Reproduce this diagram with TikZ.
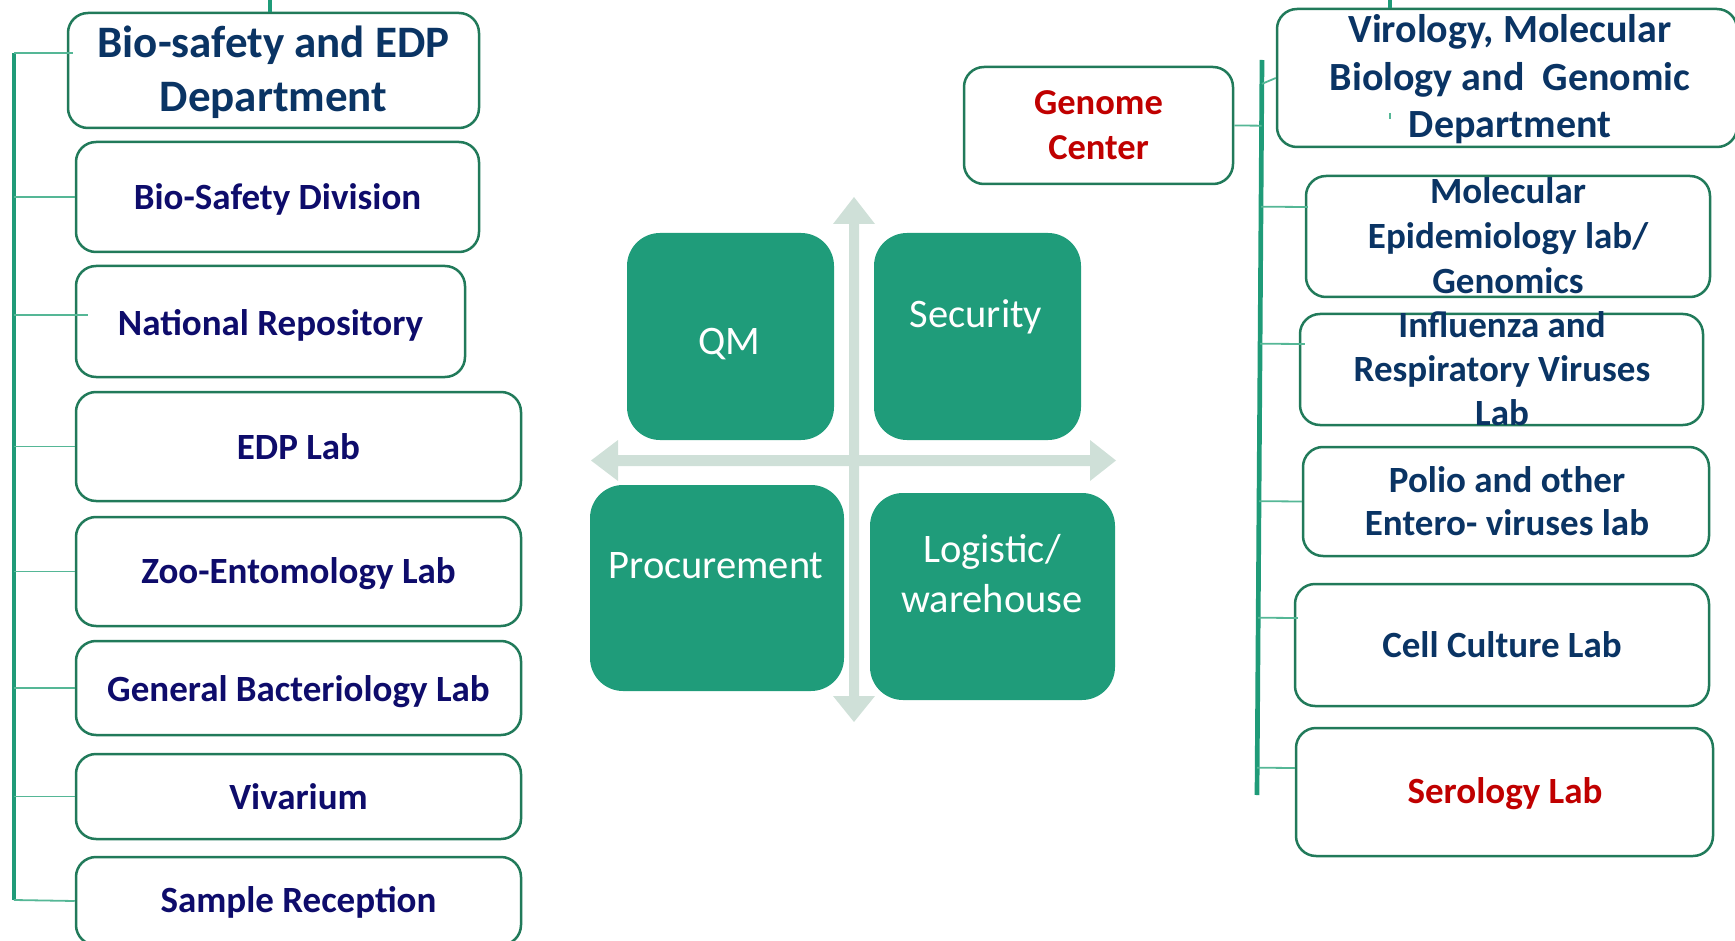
\documentclass[tikz,border=0pt]{standalone}
\usepackage{fontspec}
\setmainfont{Carlito}
\usetikzlibrary{calc}

\definecolor{rim}{HTML}{217A5A}
\definecolor{trunkc}{HTML}{1F9B78}
\definecolor{twigc}{HTML}{55B796}
\definecolor{tile}{HTML}{1F9C7A}
\definecolor{axisc}{HTML}{CFE0D8}
\definecolor{navy}{HTML}{0E0C6B}
\definecolor{deepblue}{HTML}{0A3464}
\definecolor{alert}{HTML}{C00000}

% multi-line labels are anchored at the baseline of their last line
\tikzset{
  unit/.style={draw=rim, line width=2.5pt, rounded corners=20pt, fill=white, inner sep=0pt},
  tilebox/.style={fill=tile, rounded corners=33pt, inner sep=0pt},
  lbl/.style={anchor=base, align=center, inner sep=0pt,
    font=\bfseries\fontsize{37}{44}\selectfont},
  tilelbl/.style={anchor=base, align=center, inner sep=0pt, text=white,
    font=\fontsize{40.5}{50}\selectfont},
  trunk/.style={draw=trunkc, line width=4.7pt},
  twig/.style={draw=twigc, line width=1.8pt},
  crossbar/.style={fill=axisc},
}

\begin{document}
\begin{tikzpicture}[x=1pt, y=-1pt]
\useasboundingbox (0,0) rectangle (1735,941);
\clip (0,0) rectangle (1735,941);

% ---------- central cross of double arrows ----------
\fill[crossbar] (849,224) -- (833,224) -- (854,197) -- (875,224) -- (859,224)
  -- (859,696) -- (875,696) -- (854,722) -- (833,696) -- (849,696) -- cycle;
\fill[crossbar] (618,455) -- (618,440) -- (591,460.5) -- (618,481) -- (618,466)
  -- (1090,466) -- (1090,481) -- (1116,460.5) -- (1090,440) -- (1090,455) -- cycle;

% ---------- central tiles ----------
\node[tilebox, minimum width=207pt, minimum height=207pt] (qm) at (730.5,336.5) {};
\node[tilebox, minimum width=207pt, minimum height=207pt] (sec) at (977.5,336.5) {};
\node[tilebox, minimum width=254pt, minimum height=206pt] (proc) at (717,588) {};
\node[tilebox, minimum width=245pt, minimum height=207pt] (logi) at (992.5,596.5) {};

\node[tilelbl] (qm-t) at (729,354) {QM};
\node[tilelbl] (sec-t) at (976,327) {Security};
\node[tilelbl] (proc-t) at (716,578) {Procurement};
\node[tilelbl] (logi-t) at (992,612) {Logistic/\\warehouse};

% ---------- left column: Bio-safety and EDP ----------
\node[unit, minimum width=411pt, minimum height=115pt] (hdr) at (273.5,70.5) {};
\node[unit, minimum width=403pt, minimum height=110pt] (bsd) at (277.5,197) {};
\node[unit, minimum width=389pt, minimum height=111pt] (nr) at (270.5,321.5) {};
\node[unit, minimum width=445pt, minimum height=109pt] (edp) at (298.5,446.5) {};
\node[unit, minimum width=445pt, minimum height=109pt] (zoo) at (298.5,571.5) {};
\node[unit, minimum width=445pt, minimum height=94pt] (gb) at (298.5,688) {};
\node[unit, minimum width=445pt, minimum height=85pt] (viv) at (298.5,796.5) {};
\node[unit, minimum width=445pt, minimum height=88pt] (sr) at (298.5,901) {};

\node[lbl, text=deepblue, font=\bfseries\fontsize{45}{54}\selectfont] (hdr-t) at (273.5,112)
  {Bio-safety and EDP\\Department};
\node[lbl, text=navy] (bsd-t) at (277.5,210) {Bio-Safety Division};
\node[lbl, text=navy] (nr-t) at (270.5,335) {National Repository};
\node[lbl, text=navy] (edp-t) at (298.5,459) {EDP Lab};
\node[lbl, text=navy] (zoo-t) at (298.5,583) {Zoo-Entomology Lab};
\node[lbl, text=navy] (gb-t) at (298.5,701) {General Bacteriology Lab};
\node[lbl, text=navy] (viv-t) at (298.5,809) {Vivarium};
\node[lbl, text=navy] (sr-t) at (298.5,912) {Sample Reception};

% left trunk and branches
\coordinate (ltop) at (14,53);
\coordinate (lbot) at (14,900);
\coordinate (lstub) at (270,0);
\draw[trunk] (ltop) -- (lbot);
\draw[trunk] (lstub) -- (lstub |- hdr.north);
\draw[twig] (ltop) -- ([shift={(6pt,17.5pt)}]hdr.west);
\draw[twig] (ltop |- bsd.west) -- (bsd.west);
\draw[twig] (ltop |- 0,315) -- ([shift={(13pt,6.5pt)}]nr.west);
\draw[twig] (ltop |- edp.west) -- (edp.west);
\draw[twig] (ltop |- zoo.west) -- (zoo.west);
\draw[twig] (ltop |- gb.west) -- (gb.west);
\draw[twig] (ltop |- viv.west) -- (viv.west);
\draw[twig] (lbot) -- (sr.west);

% ---------- right column: Virology, Molecular Biology and Genomic ----------
\node[unit, minimum width=460pt, minimum height=138pt] (vir) at (1507,78) {};
\node[unit, minimum width=269pt, minimum height=117pt] (gc) at (1098.5,125.5) {};
\node[unit, minimum width=404pt, minimum height=121pt] (mol) at (1508,236.5) {};
\node[unit, minimum width=403pt, minimum height=111pt] (inf) at (1501.5,369.5) {};
\node[unit, minimum width=406pt, minimum height=109pt] (pol) at (1506,501.5) {};
\node[unit, minimum width=414pt, minimum height=122pt] (cc) at (1502,645) {};
\node[unit, minimum width=417pt, minimum height=128pt] (ser) at (1504.5,792) {};

\node[lbl, text=deepblue, font=\bfseries\fontsize{40}{47.5}\selectfont] (vir-t) at (1510,138)
  {Virology, Molecular\\Biology and\ \ Genomic\\Department};
\node[lbl, text=alert, font=\bfseries\fontsize{36.5}{45}\selectfont] (gc-t) at (1098.5,160)
  {Genome\\Center};
\node[lbl, text=deepblue, font=\bfseries\fontsize{37}{45}\selectfont] (mol-t) at (1508,293.5)
  {Molecular\\Epidemiology lab/\\Genomics};
\node[lbl, text=deepblue] (inf-t) at (1502,425) {Influenza and\\Respiratory Viruses\\Lab};
\node[lbl, text=deepblue, font=\bfseries\fontsize{37}{43}\selectfont] (pol-t) at (1507,535)
  {Polio and other\\Entero- viruses lab};
\node[lbl, text=deepblue] (cc-t) at (1502,657) {Cell Culture Lab};
\node[lbl, text=alert] (ser-t) at (1505,803) {Serology Lab};

% right trunk and branches
\coordinate (rtop) at (1262,60);
\coordinate (rbot) at (1257,795);
\coordinate (rstub) at (1390,0);
\draw[trunk] (rtop) -- (rbot);
\draw[trunk] (rstub) -- (rstub |- vir.north);
\draw[twig] (1390,113) -- (1390,119);
\draw[twig] (gc.east) -- ($(rtop)!(gc.east)!(rbot)$);
\draw[twig] ($(rtop)!([yshift=-6pt]vir.west)!(rbot)$) -- (vir.west);
\draw[twig] ($(rtop)!([yshift=29.5pt]mol.west)!(rbot)$) -- ([shift={(3pt,29.5pt)}]mol.west);
\draw[twig] ($(rtop)!([yshift=25.5pt]inf.west)!(rbot)$) -- ([shift={(6pt,25.5pt)}]inf.west);
\draw[twig] ($(rtop)!(pol.west)!(rbot)$) -- (pol.west);
\draw[twig] ($(rtop)!([yshift=27pt]cc.west)!(rbot)$) -- ([shift={(4pt,27pt)}]cc.west);
\draw[twig] ($(rtop)!([yshift=24pt]ser.west)!(rbot)$) -- ([yshift=24pt]ser.west);
\end{tikzpicture}
\end{document}
